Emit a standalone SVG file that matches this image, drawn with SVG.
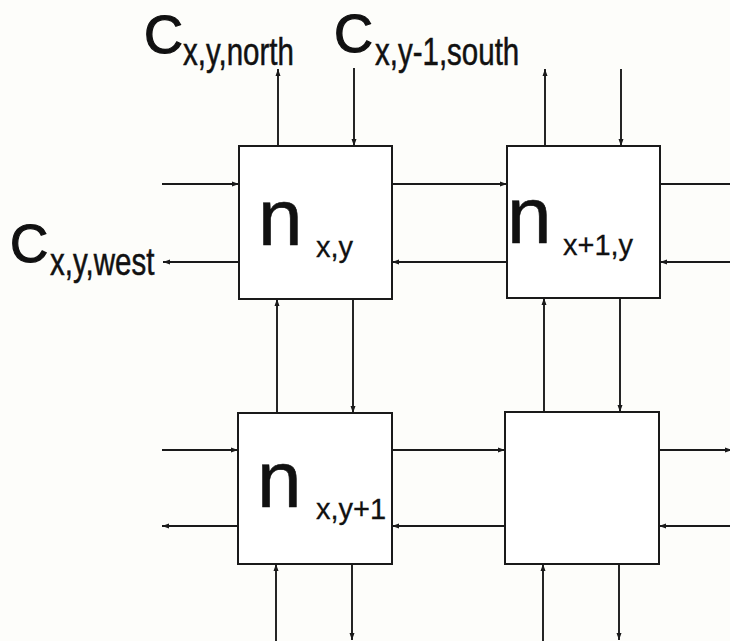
<svg xmlns="http://www.w3.org/2000/svg" width="730" height="641" viewBox="0 0 730 641">
<defs>
<marker id="ah" markerUnits="userSpaceOnUse" markerWidth="8" markerHeight="6" refX="7" refY="3" orient="auto">
<path d="M0,0.5 L7,3 L0,5.5 z" fill="#1a1a1a"/>
</marker>
<style>
.box{fill:#ffffff;stroke:#1a1a1a;stroke-width:2}
.ln{stroke:#1a1a1a;stroke-width:1.9;fill:none}
.ar{marker-end:url(#ah)}
.big{font-family:"Liberation Sans",Arial,sans-serif;font-size:53px;fill:#111;stroke:#111;stroke-width:1.2}
.sub{font-family:"Liberation Sans",Arial,sans-serif;font-size:29.5px;fill:#111;stroke:#111;stroke-width:0.4}
.n{font-family:"Liberation Sans",Arial,sans-serif;font-size:80px;fill:#111;stroke:#111;stroke-width:0.6}
.ns{font-family:"Liberation Sans",Arial,sans-serif;font-size:29px;fill:#111;stroke:#111;stroke-width:0.3}
</style>
</defs>
<rect x="0" y="0" width="730" height="641" fill="#fdfdfa"/>
<g id="connectors">
<line class="ln ar" x1="162" y1="184" x2="239" y2="184"/>
<line class="ln ar" x1="239" y1="262" x2="163" y2="262"/>
<line class="ln ar" x1="392" y1="184" x2="507" y2="184"/>
<line class="ln ar" x1="507" y1="262" x2="392" y2="262"/>
<line class="ln" x1="660" y1="184" x2="730" y2="184"/>
<line class="ln ar" x1="730" y1="262" x2="660" y2="262"/>
<line class="ln ar" x1="162" y1="450" x2="238" y2="450"/>
<line class="ln ar" x1="238" y1="526" x2="162" y2="526"/>
<line class="ln ar" x1="392" y1="450" x2="505" y2="450"/>
<line class="ln ar" x1="505" y1="526" x2="392" y2="526"/>
<line class="ln ar" x1="659" y1="450" x2="732" y2="450"/>
<line class="ln ar" x1="730" y1="526" x2="659" y2="526"/>
<line class="ln ar" x1="278" y1="146" x2="278" y2="69"/>
<line class="ln ar" x1="354" y1="68" x2="354" y2="146"/>
<line class="ln ar" x1="545" y1="146" x2="545" y2="69"/>
<line class="ln ar" x1="621" y1="69" x2="621" y2="146"/>
<line class="ln ar" x1="277" y1="413" x2="277" y2="299"/>
<line class="ln ar" x1="353" y1="299" x2="353" y2="413"/>
<line class="ln ar" x1="544" y1="412" x2="544" y2="298"/>
<line class="ln ar" x1="620" y1="298" x2="620" y2="412"/>
<line class="ln ar" x1="276" y1="641" x2="276" y2="564"/>
<line class="ln ar" x1="352" y1="564" x2="352" y2="640"/>
<line class="ln ar" x1="543" y1="641" x2="543" y2="564"/>
<line class="ln ar" x1="619" y1="564" x2="619" y2="640"/>
</g>
<g id="node-x-y">
<rect class="box" x="239" y="146" width="153" height="153"/>
<text class="n" x="258" y="245">n</text>
<text class="ns" x="316" y="257">x,y</text>
</g>
<g id="node-x1-y">
<rect class="box" x="507" y="146" width="153" height="152"/>
<text class="n" x="507" y="243">n</text>
<text class="ns" x="563" y="255">x+1,y</text>
</g>
<g id="node-x-y1">
<rect class="box" x="238" y="413" width="154" height="151"/>
<text class="n" x="257" y="507">n</text>
<text class="ns" x="316" y="519">x,y+1</text>
</g>
<g id="node-x1-y1">
<rect class="box" x="505" y="412" width="154" height="152"/>
</g>
<g id="labels">
<text class="big" transform="translate(144,53) scale(1.02,1)">C</text>
<text class="sub" transform="translate(183,65) scale(1,1.3)">x,y,north</text>
<text class="big" transform="translate(334,52) scale(1.02,1)">C</text>
<text class="sub" transform="translate(375,65) scale(1,1.3)">x,y-1,south</text>
<text class="big" transform="translate(10,262) scale(1.0,1)">C</text>
<text class="sub" transform="translate(50,275) scale(1,1.3)">x,y,west</text>
</g>
</svg>
